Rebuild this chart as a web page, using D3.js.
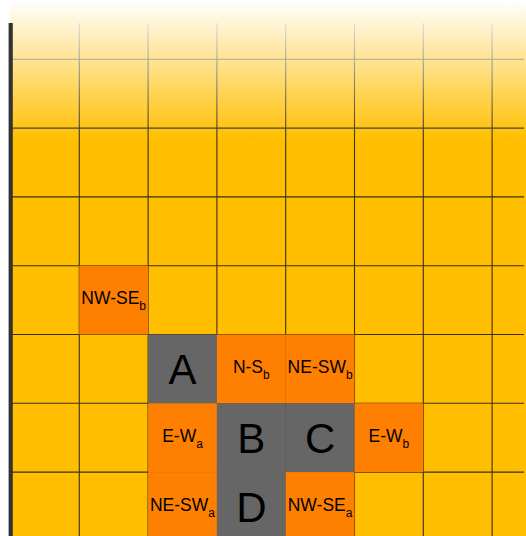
<!DOCTYPE html>
<html>
<head>
<meta charset="utf-8">
<script src="https://cdn.jsdelivr.net/npm/d3@7"></script>
<style>
  html, body { margin: 0; padding: 0; background: #fff; }
  svg { display: block; }
</style>
</head>
<body>
<svg width="526" height="536"></svg>
<script>
// grid index lines (columns / rows of the board)
var colLines = [0, 1, 2, 3, 4, 5, 6, 7, 8];
var rowLines = [0, 1, 2, 3, 4, 5, 6, 7, 8];

// highlighted cells
var cellNames = ["NW-SE", "A", "N-S", "NE-SW", "E-W", "B", "C", "E-W", "NE-SW", "D", "NW-SE"];
var cellSubs  = ["b", "", "b", "b", "a", "", "", "b", "a", "", "a"];
var cellCols  = [1, 2, 3, 4, 2, 3, 4, 5, 2, 3, 4];
var cellRows  = [4, 5, 5, 5, 6, 6, 6, 6, 7, 7, 7];
var cellKinds = ["dir", "node", "dir", "dir", "dir", "node", "node", "dir", "dir", "node", "dir"];

var cells = cellNames.map(function (d, i) {
    return {name: d, sub: cellSubs[i], col: cellCols[i], row: cellRows[i], kind: cellKinds[i]};
});

var svg = d3.select("svg"),
        width = +svg.attr("width"),
        height = +svg.attr("height");

var size = 68.8;
var x = d3.scaleLinear().domain([0, 8]).range([10.5, 10.5 + size * 8]);
var y = d3.scaleLinear().domain([0, 8]).range([-9.5, -9.5 + size * 8]);
var fill = d3.scaleOrdinal().domain(["dir", "node"]).range(["#ff8000", "#666666"]);

var defs = svg.append("defs");
defs.append("clipPath").attr("id", "board")
        .append("rect").attr("x", 10).attr("y", 23).attr("width", 514).attr("height", height - 23);

var fade = defs.append("linearGradient").attr("id", "fade")
        .attr("gradientUnits", "userSpaceOnUse")
        .attr("x1", 0).attr("y1", 0).attr("x2", 0).attr("y2", 140);
fade.append("stop").attr("offset", 0).attr("stop-color", "#fff").attr("stop-opacity", 1);
fade.append("stop").attr("offset", 1).attr("stop-color", "#fff").attr("stop-opacity", 0);

// background
svg.append("rect")
        .attr("x", 10).attr("y", 0)
        .attr("width", width - 10).attr("height", height)
        .attr("fill", "#ffbf00");

// grid lines
var grid = svg.append("g").attr("clip-path", "url(#board)")
        .attr("stroke", "#3a3018").attr("stroke-width", 1.1);

grid.selectAll(".v").data(colLines).enter().append("line")
        .attr("class", "v")
        .attr("x1", function (d) { return x(d); })
        .attr("x2", function (d) { return x(d); })
        .attr("y1", 0).attr("y2", height);

grid.selectAll(".h").data(rowLines).enter().append("line")
        .attr("class", "h")
        .attr("y1", function (d) { return y(d); })
        .attr("y2", function (d) { return y(d); })
        .attr("x1", 10).attr("x2", 524);

// cells
var cell = svg.append("g").selectAll("g").data(cells).enter().append("g");

cell.append("rect")
        .attr("x", function (d) { return x(d.col); })
        .attr("y", function (d) { return y(d.row); })
        .attr("width", function (d) { return x(d.col + 1) - x(d.col); })
        .attr("height", function (d) { return y(d.row + 1) - y(d.row); })
        .attr("fill", function (d) { return fill(d.kind); });

var label = cell.append("text")
        .attr("x", function (d) { return (x(d.col) + x(d.col + 1)) / 2; })
        .attr("y", function (d) {
            var c = (y(d.row) + y(d.row + 1)) / 2;
            return d.kind === "node" ? c + 15 : c + 4;
        })
        .attr("text-anchor", "middle")
        .attr("fill", "#000")
        .style("font-family", "'Liberation Sans', Arial, sans-serif");

label.append("tspan")
        .style("font-size", function (d) { return d.kind === "node" ? "42px" : "17.5px"; })
        .text(function (d) { return d.name; });

label.filter(function (d) { return d.sub; }).append("tspan")
        .attr("dy", 6)
        .style("font-size", "12px")
        .text(function (d) { return d.sub; });

// top fade
svg.append("rect")
        .attr("x", 0).attr("y", 0)
        .attr("width", width).attr("height", 140)
        .attr("fill", "url(#fade)");

// left edge bar
svg.append("rect")
        .attr("x", 8.6).attr("y", 23)
        .attr("width", 4.2).attr("height", height - 23)
        .attr("fill", "#333");
</script>
</body>
</html>
